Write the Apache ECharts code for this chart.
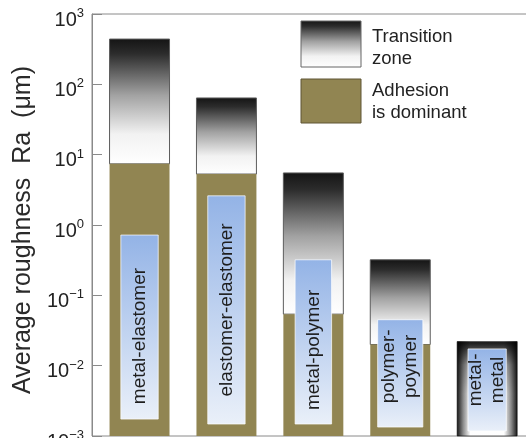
<!DOCTYPE html>
<html>
<head>
<meta charset="utf-8">
<script src="https://cdn.jsdelivr.net/npm/echarts@6/dist/echarts.min.js"></script>
<style>
  html, body { margin: 0; padding: 0; background: #ffffff; }
  #chart { width: 526px; height: 438px; }
</style>
</head>
<body>
<div id="chart"></div>
<script>
// Contact pairs, left to right
const categories = ['metal-elastomer', 'elastomer-elastomer', 'metal-polymer', 'polymer-\npoymer', 'metal-\nmetal'];
// Ra (µm) up to which adhesion is dominant (null: no adhesion-dominant range)
const adhesionTop = [7.4, 5.3, 0.054, 0.020, null];
// Ra (µm) at the upper end of the transition zone
const transitionTop = [440, 64, 5.5, 0.32, 0.022];
// Vertical extent (µm) of the name plate inside each column
const plateTop = [0.72, 2.6, 0.32, 0.045, 0.0173];
const plateBottom = [0.00174, 0.00148, 0.00148, 0.00134, 0.00118];
// Decade tick labels: 10 raised to these exponents
const yTickExponents = ['\u22123', '\u22122', '\u22121', '0', '1', '2', '3'];

const yMin = 1e-3;
const yMax = 1e3;

const FONT = '"Liberation Sans", Arial, Helvetica, sans-serif';
const OLIVE = '#918552';
const AXIS_GRAY = '#8a8a8a';
// relative width of each name plate within its column
const plateWidthScale = [0.43, 0.43, 0.42, 0.52, 0.44];
// downward nudge (px) of each pair name within its plate
const nameNudge = [9, 0, 8, -7, -10];

function transitionFill() {
  return new echarts.graphic.LinearGradient(0, 0, 0, 1, [
    { offset: 0, color: '#141414' },
    { offset: 0.12, color: '#2c2c2c' },
    { offset: 0.45, color: '#a2a2a2' },
    { offset: 0.76, color: '#f2f2f2' },
    { offset: 1, color: '#ffffff' }
  ]);
}

function renderPair(params, api) {
  const i = params.dataIndex;
  const base = api.coord([i, yMin]);
  const unit = api.coord([i + 1, yMin])[0] - base[0];
  const cx = base[0];
  const yBase = base[1];
  const barW = unit * 0.69;
  const x0 = cx - barW / 2;
  const yTop = api.coord([i, transitionTop[i]])[1];
  const hasAdhesion = adhesionTop[i] != null;
  const yAdh = hasAdhesion ? api.coord([i, adhesionTop[i]])[1] : yBase;
  const children = [];

  if (hasAdhesion) {
    children.push({
      type: 'rect',
      shape: { x: x0, y: yTop, width: barW, height: yAdh - yTop },
      style: { fill: transitionFill(), stroke: '#5c5c5c', lineWidth: 1 }
    });
    children.push({
      type: 'rect',
      shape: { x: x0, y: yAdh, width: barW, height: yBase - yAdh },
      style: { fill: OLIVE }
    });
  } else {
    // transition zone reaching down to the axis: darkened top and sides
    children.push({
      type: 'rect',
      shape: { x: x0, y: yTop, width: barW, height: yBase - yTop },
      style: {
        fill: new echarts.graphic.LinearGradient(0, 0, 0, 1, [
          { offset: 0, color: '#111111' },
          { offset: 0.25, color: '#b5b5b5' },
          { offset: 0.55, color: '#f4f4f4' },
          { offset: 1, color: '#ffffff' }
        ]),
        stroke: '#5c5c5c', lineWidth: 1
      }
    });
    children.push({
      type: 'rect',
      shape: { x: x0, y: yTop, width: barW, height: yBase - yTop },
      style: {
        fill: new echarts.graphic.LinearGradient(0, 0, 1, 0, [
          { offset: 0, color: 'rgba(0,0,0,0.9)' },
          { offset: 0.1, color: 'rgba(0,0,0,0.45)' },
          { offset: 0.22, color: 'rgba(0,0,0,0)' },
          { offset: 0.78, color: 'rgba(0,0,0,0)' },
          { offset: 0.9, color: 'rgba(0,0,0,0.45)' },
          { offset: 1, color: 'rgba(0,0,0,0.9)' }
        ])
      }
    });
  }

  // name plate
  const pW = unit * plateWidthScale[i];
  const pTop = api.coord([i, plateTop[i]])[1];
  const pBot = api.coord([i, plateBottom[i]])[1];
  children.push({
    type: 'rect',
    shape: { x: cx - pW / 2, y: pTop, width: pW, height: pBot - pTop },
    style: {
      fill: new echarts.graphic.LinearGradient(0, 0, 0, 1, [
        { offset: 0, color: '#93b3e6' },
        { offset: 1, color: '#eaf0f9' }
      ]),
      stroke: 'rgba(255,255,255,0.7)', lineWidth: 1
    }
  });
  children.push({
    type: 'text',
    x: cx,
    y: (pTop + pBot) / 2 + nameNudge[i],
    rotation: Math.PI / 2,
    style: {
      text: categories[i],
      x: 0, y: 0,
      align: 'center',
      verticalAlign: 'middle',
      font: '19px ' + FONT,
      lineHeight: 22,
      fill: '#1e1e1e'
    }
  });
  return { type: 'group', children: children };
}

const chart = echarts.init(document.getElementById('chart'), null, { renderer: 'canvas' });

chart.setOption({
  animation: false,
  backgroundColor: '#ffffff',
  grid: {
    left: 92, top: 14, right: -10, bottom: 2,
    containLabel: false,
    outerBoundsMode: 'none',
    show: true, borderColor: AXIS_GRAY, borderWidth: 1
  },
  xAxis: {
    type: 'value',
    min: -0.547,
    max: 4.562,
    show: false,
    axisLine: { onZero: false }
  },
  yAxis: {
    type: 'log',
    logBase: 10,
    min: yMin,
    max: yMax,
    interval: 1,
    name: 'Average roughness  Ra  (\u03bcm)',
    nameLocation: 'middle',
    nameGap: 50,
    nameTextStyle: { fontFamily: FONT, fontSize: 25, color: '#2a2a2a', padding: [0, 10, 0, 0] },
    axisLine: { show: true, onZero: false, lineStyle: { color: AXIS_GRAY, width: 1 } },
    axisTick: { show: true, inside: true, length: 10, lineStyle: { color: AXIS_GRAY, width: 1 } },
    splitLine: { show: false },
    axisLabel: {
      margin: 8,
      padding: [8, 0, 0, 0],
      formatter: function (value, index) {
        return '{b|10}{s|' + yTickExponents[index] + '}';
      },
      rich: {
        b: { fontFamily: FONT, fontSize: 20, color: '#222', lineHeight: 24, verticalAlign: 'bottom' },
        s: { fontFamily: FONT, fontSize: 13, color: '#222', lineHeight: 16, verticalAlign: 'bottom', padding: [0, 0, 10, 0] }
      }
    }
  },
  graphic: [
    {
      type: 'rect',
      shape: { x: 301, y: 21, width: 60, height: 46 },
      style: { fill: transitionFill(), stroke: '#666666', lineWidth: 1 }
    },
    {
      type: 'rect',
      shape: { x: 301, y: 79, width: 60, height: 44 },
      style: { fill: OLIVE, stroke: '#5e5535', lineWidth: 1 }
    },
    {
      type: 'text',
      x: 372, y: 26,
      style: { text: 'Transition\nzone', font: '18.5px ' + FONT, lineHeight: 22, fill: '#222', verticalAlign: 'top' }
    },
    {
      type: 'text',
      x: 372, y: 80,
      style: { text: 'Adhesion\nis dominant', font: '18.5px ' + FONT, lineHeight: 22, fill: '#222', verticalAlign: 'top' }
    }
  ],
  series: [{
    type: 'custom',
    renderItem: renderPair,
    encode: { x: 0, y: 1 },
    clip: false,
    data: categories.map(function (c, i) { return [i, transitionTop[i]]; })
  }]
});
</script>
</body>
</html>
